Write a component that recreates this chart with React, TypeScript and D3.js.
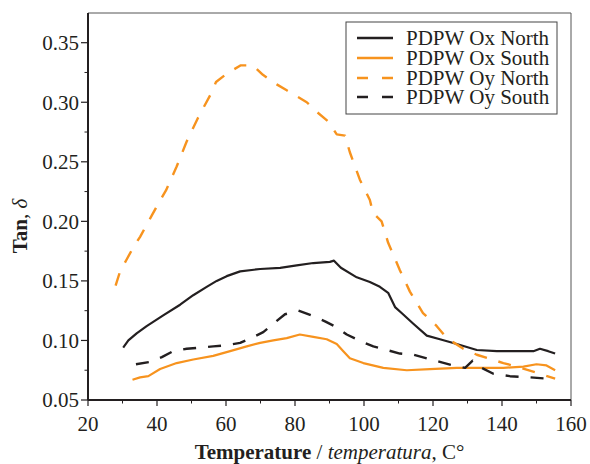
import React from "react";
import * as d3 from "d3";

type P = [number, number];

const oxNorth: P[] = [
  [30.2, 0.094], [31.7, 0.1], [34.1, 0.106], [37.0, 0.112], [41.8, 0.121], [46.7, 0.13],
  [50.5, 0.138], [54.4, 0.145], [57.3, 0.15], [60.2, 0.154], [64.1, 0.158], [69.9, 0.16],
  [75.7, 0.161], [80.5, 0.163], [85.3, 0.165], [90.1, 0.166], [91.3, 0.167], [93.3, 0.161],
  [97.9, 0.153], [101.7, 0.149], [104.6, 0.145], [107.0, 0.14], [109.0, 0.128], [110.9, 0.123],
  [114.3, 0.114], [118.2, 0.104], [122.0, 0.101], [126.9, 0.097], [132.7, 0.092], [138.5, 0.091],
  [144.3, 0.091], [149.1, 0.091], [151.0, 0.093], [153.4, 0.091], [155.4, 0.089],
];

const oxSouth: P[] = [
  [32.9, 0.067], [35.1, 0.069], [37.5, 0.07], [40.9, 0.076], [45.7, 0.081], [50.5, 0.084],
  [56.3, 0.087], [61.2, 0.091], [66.0, 0.095], [69.9, 0.098], [73.7, 0.1], [77.6, 0.102],
  [81.4, 0.105], [85.3, 0.103], [89.2, 0.101], [92.1, 0.097], [94.0, 0.091], [95.9, 0.085],
  [99.8, 0.081], [105.6, 0.077], [112.4, 0.075], [119.1, 0.076], [126.9, 0.077], [133.6, 0.077],
  [140.4, 0.077], [146.2, 0.078], [150.0, 0.08], [152.9, 0.079], [155.4, 0.075],
];

const oyNorth: P[] = [
  [28.0, 0.146], [29.3, 0.158], [31.2, 0.168], [33.1, 0.178], [35.1, 0.187], [38.5, 0.205],
  [40.4, 0.215], [42.6, 0.226], [45.7, 0.246], [48.6, 0.267], [51.9, 0.287], [55.8, 0.308],
  [57.1, 0.317], [60.2, 0.324], [64.3, 0.331], [67.8, 0.331], [70.7, 0.323], [74.7, 0.315],
  [77.6, 0.31], [83.4, 0.3], [86.3, 0.292], [89.6, 0.284], [92.1, 0.273], [94.5, 0.272],
  [95.9, 0.258], [98.8, 0.235], [101.7, 0.218], [102.6, 0.207], [105.1, 0.2], [107.0, 0.182],
  [110.4, 0.159], [113.3, 0.141], [117.1, 0.123], [121.1, 0.112], [124.0, 0.102], [128.8, 0.093],
  [132.7, 0.088], [140.4, 0.081], [144.3, 0.078], [151.0, 0.072], [155.4, 0.068],
];

const oySouth: P[] = [
  [33.9, 0.08], [38.0, 0.082], [41.4, 0.086], [44.7, 0.091], [48.6, 0.093], [56.3, 0.095],
  [60.2, 0.096], [64.1, 0.098], [68.0, 0.103], [70.8, 0.107], [73.7, 0.114], [77.1, 0.122],
  [81.0, 0.125], [84.8, 0.121], [88.7, 0.116], [92.1, 0.111], [95.0, 0.105], [99.3, 0.099],
  [102.7, 0.095], [106.6, 0.092], [110.4, 0.089], [114.3, 0.088], [118.2, 0.085], [122.0, 0.082],
  [125.9, 0.079], [129.3, 0.077], [131.5, 0.083], [134.1, 0.077], [137.5, 0.072], [142.3, 0.07],
  [148.1, 0.069], [152.9, 0.068],
];

const seriesNames = ["PDPW Ox North", "PDPW Ox South", "PDPW Oy North", "PDPW Oy South"];
const xTicks = [20, 40, 60, 80, 100, 120, 140, 160];
const xMinor = [30, 50, 70, 90, 110, 130, 150];
const yTicks = [0.05, 0.1, 0.15, 0.2, 0.25, 0.3, 0.35];
const yMinor = [0.075, 0.125, 0.175, 0.225, 0.275, 0.325];

const BLACK = "#231f20";
const ORANGE = "#f7931e";
const FONT = "'Liberation Serif', 'Times New Roman', serif";

export default function App() {
  const W = 590, H = 464;
  const left = 88, right = 571, top = 13, bottom = 400;
  const x = d3.scaleLinear().domain([20, 160]).range([left, right]);
  const y = d3.scaleLinear().domain([0.05, 0.35]).range([bottom, 42.7]);
  const line = d3.line<P>().x((d) => x(d[0])).y((d) => y(d[1]));

  const series = [
    { data: oxNorth, color: BLACK, dash: null as string | null, w: 2.2 },
    { data: oxSouth, color: ORANGE, dash: null, w: 2.2 },
    { data: oyNorth, color: ORANGE, dash: "13,12", w: 2.4 },
    { data: oySouth, color: BLACK, dash: "13,12", w: 2.4 },
  ];

  const legX = 346, legY = 22, legW = 211, legH = 92;
  const rowY = [38, 58, 78, 97];

  return (
    <svg width={W} height={H} style={{ position: "absolute", left: 0, top: 0, background: "#fff" }} fontFamily={FONT}>
      {/* frame */}
      <line x1={left} x2={right} y1={top} y2={top} stroke="#555" strokeWidth={1} />
      <line x1={right} x2={right} y1={top} y2={bottom} stroke="#555" strokeWidth={1} />
      {/* series */}
      {series.map((s, i) => (
        <path key={i} d={line(s.data) || ""} fill="none" stroke={s.color} strokeWidth={s.w}
          strokeDasharray={s.dash || undefined} strokeLinejoin="round" />
      ))}
      {/* axes */}
      <line x1={left} x2={right} y1={bottom} y2={bottom} stroke={BLACK} strokeWidth={2} />
      <line x1={left} x2={left} y1={top} y2={bottom} stroke={BLACK} strokeWidth={2} />
      {xTicks.map((t) => (
        <g key={"xt" + t}>
          <line x1={x(t)} x2={x(t)} y1={bottom} y2={bottom + 6} stroke={BLACK} strokeWidth={1.2} />
          <text x={x(t)} y={431} textAnchor="middle" fontSize={21} fill={BLACK}>{t}</text>
        </g>
      ))}
      {xMinor.map((t) => (
        <line key={"xm" + t} x1={x(t)} x2={x(t)} y1={bottom} y2={bottom + 3.5} stroke={BLACK} strokeWidth={1} />
      ))}
      {yTicks.map((t) => (
        <g key={"yt" + t}>
          <line x1={left - 7} x2={left} y1={y(t)} y2={y(t)} stroke={BLACK} strokeWidth={1.2} />
          <text x={79} y={y(t)} dy="0.35em" textAnchor="end" fontSize={21} fill={BLACK}>{t.toFixed(2)}</text>
        </g>
      ))}
      {yMinor.map((t) => (
        <line key={"ym" + t} x1={left - 3.5} x2={left} y1={y(t)} y2={y(t)} stroke={BLACK} strokeWidth={1} />
      ))}
      {/* axis titles */}
      <text x={(left + right) / 2} y={459} textAnchor="middle" fontSize={21} fill={BLACK}>
        <tspan fontWeight="bold">Temperature</tspan>
        <tspan> / </tspan>
        <tspan fontStyle="italic">temperatura</tspan>
        <tspan>, C°</tspan>
      </text>
      <text transform="translate(27, 226) rotate(-90)" textAnchor="middle" fontSize={21} fill={BLACK}>
        <tspan fontWeight="bold">Tan</tspan>
        <tspan>, </tspan>
        <tspan fontStyle="italic">δ</tspan>
      </text>
      {/* legend */}
      <rect x={legX} y={legY} width={legW} height={legH} fill="#fff" stroke="#444" strokeWidth={1} />
      {series.map((s, i) => (
        <g key={"lg" + i}>
          <line x1={357} x2={393} y1={rowY[i]} y2={rowY[i]} stroke={s.color} strokeWidth={2.4}
            strokeDasharray={s.dash ? "11,14" : undefined} />
          <text x={406} y={rowY[i]} dy="0.35em" fontSize={21} fill={BLACK}>{seriesNames[i]}</text>
        </g>
      ))}
    </svg>
  );
}
